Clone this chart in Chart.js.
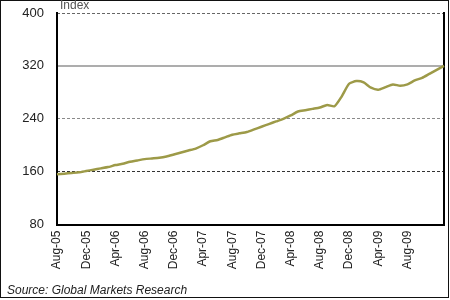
<!DOCTYPE html>
<html>
<head>
<meta charset="utf-8">
<script src="https://cdn.jsdelivr.net/npm/chart.js@4/dist/chart.umd.min.js"></script>
<style>
  body { margin: 0; background: #fff; }
  #wrap { width: 450px; height: 300px; position: relative; }
</style>
</head>
<body>
<div id="wrap"><canvas id="chart"></canvas></div>
<script>
// monthly, Aug-05 .. Jan-10
const months = [
  'Aug-05', 'Sep-05', 'Oct-05', 'Nov-05', 'Dec-05', 'Jan-06', 'Feb-06', 'Mar-06',
  'Apr-06', 'May-06', 'Jun-06', 'Jul-06', 'Aug-06', 'Sep-06', 'Oct-06', 'Nov-06',
  'Dec-06', 'Jan-07', 'Feb-07', 'Mar-07', 'Apr-07', 'May-07', 'Jun-07', 'Jul-07',
  'Aug-07', 'Sep-07', 'Oct-07', 'Nov-07', 'Dec-07', 'Jan-08', 'Feb-08', 'Mar-08',
  'Apr-08', 'May-08', 'Jun-08', 'Jul-08', 'Aug-08', 'Sep-08', 'Oct-08', 'Nov-08',
  'Dec-08', 'Jan-09', 'Feb-09', 'Mar-09', 'Apr-09', 'May-09', 'Jun-09', 'Jul-09',
  'Aug-09', 'Sep-09', 'Oct-09', 'Nov-09', 'Dec-09', 'Jan-10'
]
const indexValues = [
  156, 157, 158, 159, 161, 163, 165, 167,
  170, 172, 175, 177, 179, 180, 181, 183,
  186, 189, 192, 195, 200, 206, 208, 212,
  216, 218, 220, 224, 228, 232, 236, 240,
  245, 251, 253, 255, 257, 261, 259, 274,
  293, 297, 295, 287, 284, 288, 292, 290,
  292, 298, 302, 308, 314, 320
]
const shownLabels = ['Aug-05', 'Dec-05', 'Apr-06', 'Aug-06', 'Dec-06', 'Apr-07', 'Aug-07',
  'Dec-07', 'Apr-08', 'Aug-08', 'Dec-08', 'Apr-09', 'Aug-09']
const yTicks = [80, 160, 240, 320, 400]

const frame = {
  id: 'frame',
  afterDraw(chart) {
    const { ctx, chartArea } = chart
    ctx.save()
    // outer border of the picture
    ctx.strokeStyle = '#111'
    ctx.lineWidth = 1
    ctx.strokeRect(0.5, 0.5, chart.width - 2, chart.height - 3)
    // y-axis caption
    ctx.fillStyle = '#555'
    ctx.font = '12px "Liberation Sans", Arial, sans-serif'
    ctx.textBaseline = 'bottom'
    ctx.fillText('Index', chartArea.left + 3, chartArea.top - 1)
    ctx.restore()
  }
}

const noPad = s => {
  s.paddingTop = 0
  s.paddingBottom = 0
  s.paddingLeft = 0
  s.paddingRight = 0
}

new Chart(document.getElementById('chart'), {
  type: 'line',
  data: {
    labels: months,
    datasets: [{
      data: indexValues,
      borderColor: '#9d9a48',
      borderWidth: 2.5,
      pointRadius: 0,
      tension: 0.2
    }]
  },
  options: {
    responsive: true,
    maintainAspectRatio: false,
    animation: false,
    layout: { padding: { top: 13, right: 6, left: 7, bottom: 0 } },
    plugins: {
      legend: { display: false },
      tooltip: { enabled: false },
      title: {
        display: true,
        position: 'bottom',
        align: 'start',
        text: 'Source: Global Markets Research',
        color: '#222',
        font: { family: '"Liberation Sans", Arial, sans-serif', size: 12, style: 'italic', weight: 'normal' },
        padding: { top: 9, bottom: 2 }
      }
    },
    scales: {
      x: {
        type: 'category',
        offset: false,
        grid: { display: false, drawTicks: false },
        border: { display: true, color: '#000', width: 2 },
        afterFit: s => { s.height = 50; noPad(s) },
        ticks: {
          autoSkip: false,
          minRotation: 90,
          maxRotation: 90,
          padding: 6,
          color: '#222',
          font: { family: '"Liberation Sans", Arial, sans-serif', size: 12 },
          callback: function(value) {
            const label = this.getLabelForValue(value)
            return shownLabels.includes(label) ? label : ''
          }
        }
      },
      y: {
        min: 80,
        max: 400,
        afterBuildTicks: s => { s.ticks = yTicks.map(v => ({ value: v })) },
        afterFit: s => { s.width = 50; noPad(s) },
        border: { display: true, color: '#000', width: 2 },
        grid: {
          drawTicks: false,
          lineWidth: 2,
          color: c => c.tick && c.tick.value === 320 ? '#adadad' : 'rgba(0,0,0,0)'
        },
        ticks: {
          padding: 13,
          color: '#222',
          font: { family: '"Liberation Sans", Arial, sans-serif', size: 13 }
        }
      },
      y2: {
        position: 'right',
        min: 80,
        max: 400,
        afterBuildTicks: s => { s.ticks = yTicks.map(v => ({ value: v })) },
        afterFit: s => { s.width = 0; noPad(s) },
        border: { display: true, color: '#000', width: 2, dash: [3, 2] },
        grid: {
          drawTicks: false,
          lineWidth: 1,
          color: c => {
            if (!c.tick) return 'rgba(0,0,0,0)'
            if (c.tick.value === 400) return '#666'
            if (c.tick.value === 240) return '#8a8a8a'
            if (c.tick.value === 160) return '#333'
            return 'rgba(0,0,0,0)'
          }
        },
        ticks: { display: false }
      }
    }
  },
  plugins: [frame]
})
</script>
</body>
</html>
